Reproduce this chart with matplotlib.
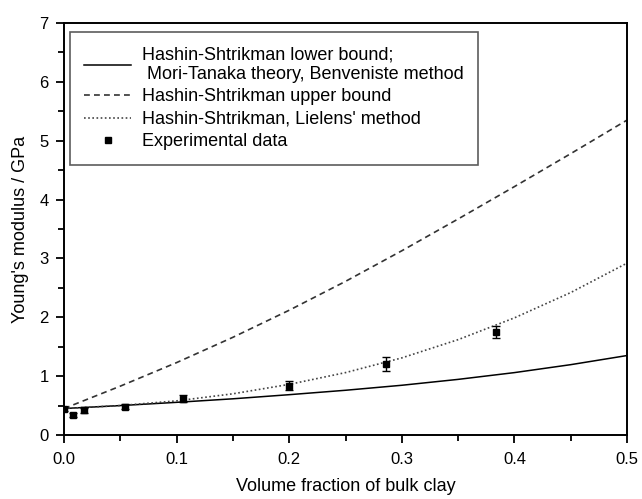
import matplotlib
matplotlib.use('Agg')
import matplotlib.pyplot as plt
from matplotlib.ticker import MultipleLocator

plt.rcParams['font.family'] = ['Liberation Sans', 'DejaVu Sans']

# volume fraction grid for the model curves
phi = [0.0, 0.05, 0.10, 0.15, 0.20, 0.25, 0.30, 0.35, 0.40, 0.45, 0.50]

# Hashin-Shtrikman lower bound (= Mori-Tanaka / Benveniste)
e_lower = [0.45, 0.50, 0.555, 0.615, 0.685, 0.76, 0.845, 0.945, 1.06, 1.195, 1.35]
# Hashin-Shtrikman upper bound
e_upper = [0.45, 0.83, 1.23, 1.66, 2.12, 2.61, 3.13, 3.67, 4.22, 4.78, 5.35]
# Hashin-Shtrikman with Lielens' interpolation
e_lielens = [0.45, 0.50, 0.58, 0.70, 0.86, 1.06, 1.31, 1.62, 1.99, 2.42, 2.92]

# measured moduli
phi_exp = [0.0, 0.008, 0.018, 0.054, 0.106, 0.200, 0.286, 0.384]
e_exp = [0.44, 0.34, 0.42, 0.48, 0.62, 0.84, 1.21, 1.75]
e_err = [0.04, 0.03, 0.04, 0.04, 0.06, 0.08, 0.12, 0.11]


def main():
    fig = plt.figure(figsize=(6.42, 4.99), dpi=100)
    ax = fig.add_axes([64 / 642, 1 - 435 / 499, 563 / 642, 412 / 499])

    ax.plot(phi, e_lower, color='black', lw=1.1, ls='-',
            label="Hashin-Shtrikman lower bound;\n Mori-Tanaka theory, Benveniste method")
    ax.plot(phi, e_upper, color='#333333', lw=1.2, ls=(0, (3.5, 2.5)),
            label='Hashin-Shtrikman upper bound')
    ax.plot(phi, e_lielens, color='#444444', lw=1.2, ls=(0, (1, 1.5)),
            label="Hashin-Shtrikman, Lielens' method")

    # error bars drawn without a legend entry, the square marker carries the label
    ax.errorbar(phi_exp, e_exp, yerr=e_err, fmt='none', ecolor='black',
                elinewidth=1, capsize=3, capthick=1)
    ax.plot(phi_exp, e_exp, 's', color='black', ms=4.5, ls='none',
            label='Experimental data')

    ax.set_xlim(0, 0.5)
    ax.set_ylim(0, 7)
    ax.xaxis.set_major_locator(MultipleLocator(0.1))
    ax.xaxis.set_minor_locator(MultipleLocator(0.05))
    ax.yaxis.set_major_locator(MultipleLocator(1))
    ax.yaxis.set_minor_locator(MultipleLocator(0.5))
    ax.xaxis.set_major_formatter(plt.FormatStrFormatter('%.1f'))
    ax.tick_params(which='both', direction='out', top=False, right=False,
                   width=1.3, labelsize=12)
    ax.tick_params(which='major', length=6)
    ax.tick_params(which='minor', length=4)
    ax.tick_params(axis='x', which='major', pad=6)
    ax.tick_params(axis='y', which='major', pad=5)
    for sp in ax.spines.values():
        sp.set_linewidth(1.4)

    ax.set_xlabel('Volume fraction of bulk clay', fontsize=13)
    ax.set_ylabel("Young's modulus / GPa", fontsize=13)
    ax.xaxis.set_label_coords(0.5, -0.104)
    ax.yaxis.set_label_coords(-0.062, 0.5)

    leg = ax.legend(loc='upper left', bbox_to_anchor=(6 / 563, 1 - 9 / 412),
                    fontsize=13, frameon=True, fancybox=False, handlelength=2.6,
                    handletextpad=0.6, borderpad=0.8, labelspacing=0.3,
                    borderaxespad=0)
    leg.get_frame().set_edgecolor('#333333')
    leg.get_frame().set_linewidth(1.2)

    fig.savefig('out.png', dpi=100)


if __name__ == '__main__':
    main()
